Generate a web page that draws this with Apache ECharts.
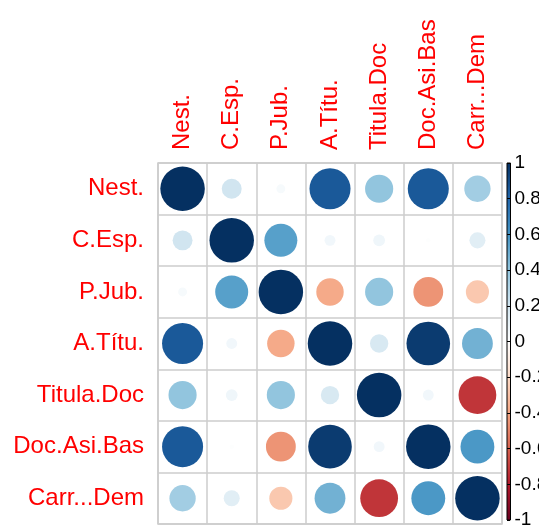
<!DOCTYPE html>
<html>
<head>
<meta charset="utf-8">
<script src="https://cdn.jsdelivr.net/npm/echarts@6/dist/echarts.min.js"></script>
<style>html,body{margin:0;padding:0;background:#fff;}#c{width:539px;height:532px;}</style>
</head>
<body>
<div id="c"></div>
<script>
var labels = ['Nest.', 'C.Esp.', 'P.Jub.', 'A.Títu.', 'Titula.Doc', 'Doc.Asi.Bas', 'Carr...Dem'];
var rowNest     = [1.00, 0.20, 0.04, 0.85, 0.40, 0.85, 0.35];
var rowCEsp     = [0.20, 1.00, 0.55, 0.06, 0.07, 0.01, 0.13];
var rowPJub     = [0.04, 0.55, 1.00, -0.38, 0.40, -0.45, -0.27];
var rowATitu    = [0.85, 0.06, -0.38, 1.00, 0.17, 0.96, 0.48];
var rowTitula   = [0.40, 0.07, 0.40, 0.17, 1.00, 0.06, -0.72];
var rowDocAsi   = [0.85, 0.01, -0.45, 0.96, 0.06, 1.00, 0.58];
var rowCarr     = [0.35, 0.13, -0.27, 0.48, -0.72, 0.58, 1.00];
var colorbarTicks = [-1, -0.8, -0.6, -0.4, -0.2, 0, 0.2, 0.4, 0.6, 0.8, 1];
var palette = ['#67001F', '#B2182B', '#D6604D', '#F4A582', '#FDDBC7', '#FFFFFF', '#D1E5F0', '#92C5DE', '#4393C3', '#2166AC', '#053061'];

var rows = [rowNest, rowCEsp, rowPJub, rowATitu, rowTitula, rowDocAsi, rowCarr];
var data = [];
rows.forEach(function (r, i) {
  r.forEach(function (v, j) { data.push([j, i, v]); });
});

var stops = palette.map(function (c, k) {
  return { offset: 1 - k / (palette.length - 1), color: c };
});

var chart = echarts.init(document.getElementById('c'), null, { renderer: 'canvas' });
var font = 'Liberation Sans, Arial, sans-serif';
chart.setOption({
  animation: false,
  backgroundColor: '#fff',
  grid: [
    { left: 158, top: 163, width: 344, height: 361, show: true, borderColor: '#cccccc', borderWidth: 1.5, containLabel: false },
    { left: 507, top: 163, width: 14, height: 357, show: true, borderColor: '#000', borderWidth: 1,
      backgroundColor: new echarts.graphic.LinearGradient(0, 0, 0, 1, stops) }
  ],
  xAxis: [
    { type: 'category', data: labels, position: 'top', gridIndex: 0,
      axisLine: { show: false }, axisTick: { show: false },
      splitLine: { show: true, interval: 0, lineStyle: { color: '#cccccc', width: 1.5 } },
      axisLabel: { rotate: -90, color: '#FF0000', fontSize: 24, fontFamily: font, margin: 13, interval: 0 } },
    { type: 'value', gridIndex: 1, show: false, min: 0, max: 1 }
  ],
  yAxis: [
    { type: 'category', data: labels, inverse: true, gridIndex: 0,
      axisLine: { show: false }, axisTick: { show: false },
      splitLine: { show: true, interval: 0, lineStyle: { color: '#cccccc', width: 1.5 } },
      axisLabel: { color: '#FF0000', fontSize: 24, fontFamily: font, margin: 14, interval: 0 } },
    { type: 'value', gridIndex: 1, min: -1, max: 1, interval: 0.2, position: 'right',
      axisLine: { show: false },
      axisTick: { show: true, length: 3, lineStyle: { color: '#000' } },
      splitLine: { show: false },
      axisLabel: { color: '#000', fontSize: 19, fontFamily: font, margin: 4,
        formatter: function (v) { var r = Math.round(v * 10) / 10; return colorbarTicks.indexOf(r) >= 0 ? String(r) : ''; } } }
  ],
  visualMap: {
    show: false, type: 'continuous', min: -1, max: 1, dimension: 2, seriesIndex: 0,
    inRange: { color: palette }
  },
  series: [{
    type: 'scatter', xAxisIndex: 0, yAxisIndex: 0,
    data: data,
    symbol: 'circle',
    symbolSize: function (d) { return 44.5 * Math.sqrt(Math.abs(d[2])); },
    itemStyle: { opacity: 1 }
  }]
});
</script>
</body>
</html>
